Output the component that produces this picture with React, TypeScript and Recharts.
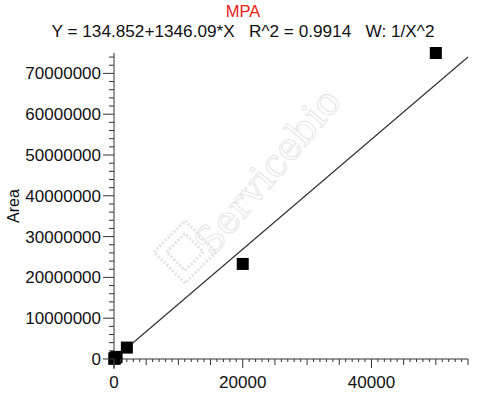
import React from "react";
import { ScatterChart, Scatter, XAxis, YAxis } from "recharts";

// standards: concentration vs area
const stdConc = [50, 100, 200, 400, 2000, 20000, 50000];
const stdArea = [70000, 140000, 280000, 520000, 2800000, 23300000, 75000000];

// fitted line Y = 134.852 + 1346.09*X, endpoints
const fitX = [0, 55000];
const fitY = [134.852, 74035084.85];

const xMajorTicks = [0, 20000, 40000];
const yMajorTicks = [0, 10000000, 20000000, 30000000, 40000000, 50000000, 60000000, 70000000];
const xMax = 55000;
const yMax = 75000000;
const xMinorStep = 1000;
const yMinorStep = 2000000;

const FONT = "Arial, 'Liberation Sans', sans-serif";
const AXIS = "#333";

const points = stdConc.map((x, i) => ({ x, y: stdArea[i] }));
const fitLine = fitX.map((x, i) => ({ x, y: fitY[i] }));

const xTicks: number[] = [];
for (let v = 0; v <= xMax; v += xMinorStep) xTicks.push(v);
const yTicks: number[] = [];
for (let v = 0; v < yMax; v += yMinorStep) yTicks.push(v);

function XTick({ x, y, payload }: any) {
  const v = payload.value;
  const major = xMajorTicks.includes(v);
  const len = major ? 9 : v % 5000 === 0 ? 6 : 3;
  return (
    <g>
      <line x1={x} x2={x} y1={y} y2={y + len} stroke={AXIS} strokeWidth={1} />
      {major && (
        <text x={x} y={y + 29} textAnchor="middle" fontSize={17} fontFamily={FONT} fill="#111">
          {v}
        </text>
      )}
    </g>
  );
}

function YTick({ x, y, payload }: any) {
  const v = payload.value;
  const major = yMajorTicks.includes(v);
  const len = major ? 11 : 5;
  return (
    <g>
      <line x1={x - len} x2={x} y1={y} y2={y} stroke={AXIS} strokeWidth={1} />
      {v === 0 && <line x1={x} x2={x} y1={y} y2={y + 10} stroke={AXIS} strokeWidth={1} />}
      {major && (
        <text x={x - 13} y={y + 6} textAnchor="end" fontSize={17} fontFamily={FONT} fill="#111">
          {v}
        </text>
      )}
    </g>
  );
}

const Square = (props: any) => (
  <rect x={props.cx - 6} y={props.cy - 6} width={12} height={12} fill="#000" />
);

export default function App() {
  return (
    <div style={{ position: "absolute", left: 0, top: 0, width: 500, height: 404, background: "#fff" }}>
      <ScatterChart width={500} height={404} margin={{ top: 53, right: 32, bottom: 0, left: 14 }}>
        <XAxis
          type="number"
          dataKey="x"
          domain={[0, xMax]}
          ticks={xTicks}
          interval={0}
          tickSize={0}
          tickMargin={0}
          tickLine={false}
          tick={<XTick />}
          axisLine={{ stroke: AXIS }}
          height={45}
        />
        <YAxis
          type="number"
          dataKey="y"
          domain={[0, yMax]}
          ticks={yTicks}
          interval={0}
          tickSize={0}
          tickMargin={0}
          tickLine={false}
          tick={<YTick />}
          axisLine={{ stroke: AXIS }}
          width={100}
        />
        <Scatter
          data={fitLine}
          line={{ stroke: "#333", strokeWidth: 1.2 }}
          shape={() => null}
          isAnimationActive={false}
        />
        <Scatter data={points} shape={<Square />} isAnimationActive={false} />
      </ScatterChart>
      <svg
        width={500}
        height={404}
        style={{ position: "absolute", left: 0, top: 0, pointerEvents: "none" }}
      >
        <text x={243} y={17} textAnchor="middle" fontSize={16.5} fontFamily={FONT} fill="#e8201c">
          MPA
        </text>
        <text x={243} y={37} textAnchor="middle" fontSize={17.2} fontFamily={FONT} fill="#111" xmlSpace="preserve">
          Y = 134.852+1346.09*X   R^2 = 0.9914   W: 1/X^2
        </text>
        <text
          x={0}
          y={0}
          transform="translate(19,206) rotate(-90)"
          textAnchor="middle"
          fontSize={16}
          fontFamily={FONT}
          fill="#111"
        >
          Area
        </text>
        <g opacity={0.55}>
          <g transform="translate(185,252) rotate(-45)">
            <rect x={-22} y={-22} width={44} height={44} fill="none" stroke="#ccc" strokeWidth={3} strokeDasharray="2 2" />
            <rect x={-13} y={-13} width={26} height={26} fill="none" stroke="#ccc" strokeWidth={3} strokeDasharray="2 2" />
          </g>
          <text
            x={0}
            y={0}
            transform="translate(212,258) rotate(-50)"
            fontSize={38}
            fontFamily="'DejaVu Serif', 'Liberation Serif', serif"
            fill="none"
            stroke="#c8c8c8"
            strokeWidth={0.8}
          >
            Servicebio
          </text>
        </g>
      </svg>
    </div>
  );
}
